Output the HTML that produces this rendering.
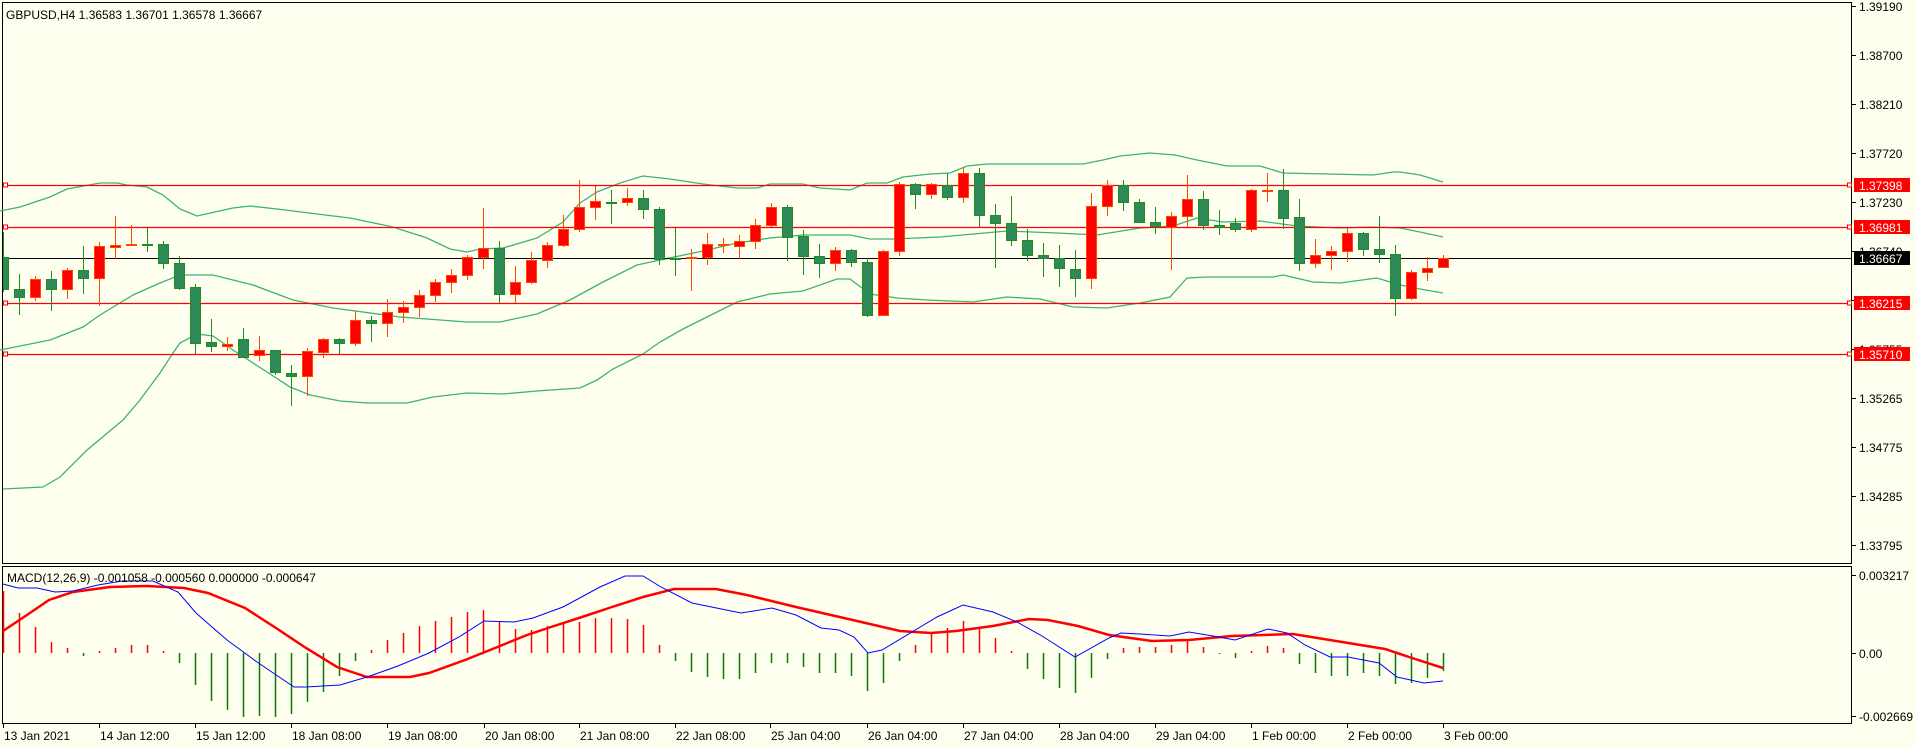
<!DOCTYPE html>
<html><head><meta charset="utf-8"><style>
html,body{margin:0;padding:0;background:#fffff0;}
svg{display:block;font-family:"Liberation Sans",sans-serif;}
</style></head><body>
<svg id="s" width="1916" height="748" xmlns="http://www.w3.org/2000/svg">
<rect x="0" y="0" width="1916" height="748" fill="#fffff0"/>
<g id="g"></g>
</svg>
<script>
const NS="http://www.w3.org/2000/svg";const G=document.getElementById('g');
function el(t,a,txt){const e=document.createElementNS(NS,t);for(const k in a)e.setAttribute(k,a[k]);if(txt!==undefined)e.textContent=txt;G.appendChild(e);return e;}
// frames
el('rect',{x:2.5,y:2.5,width:1849,height:561,fill:'none',stroke:'#000','stroke-width':1});
el('rect',{x:2.5,y:566.5,width:1849,height:157,fill:'none',stroke:'#000','stroke-width':1});
// bollinger
const up=[[0,211],[20,207],[50,197],[67,189],[100,183],[117,183],[127,185],[147,187],[163,195],[180,209],[197,216],[233,208],[250,206],[277,209],[317,214],[350,218],[393,227],[427,238],[450,249],[467,252],[480,249],[503,248],[537,238],[563,222],[580,203],[597,192],[620,183],[643,176],[670,179],[703,184],[737,188],[757,188],[770,184],[803,184],[820,188],[850,190],[867,183],[887,183],[903,177],[930,174],[950,173],[967,166],[987,164],[1083,164],[1103,160],[1120,156],[1150,153],[1175,155],[1197,160],[1227,166],[1260,166],[1283,173],[1373,175],[1393,172],[1400,172],[1420,175],[1443,182]];
const mid=[[0,350],[50,340],[83,327],[100,315],[133,295],[160,283],[180,275],[213,275],[253,285],[293,300],[333,308],[400,317],[467,322],[500,322],[537,314],[570,300],[603,282],[637,265],[660,260],[703,251],[737,243],[770,238],[803,235],[850,235],[870,239],[893,239],[940,237],[1007,231],[1057,233],[1097,235],[1140,228],[1173,226],[1197,218],[1223,222],[1260,221],[1297,226],[1340,228],[1373,227],[1400,228],[1420,232],[1443,237]];
const lo=[[3,489],[43,487],[60,477],[87,450],[105,435],[123,420],[140,400],[160,373],[173,353],[180,343],[197,334],[213,336],[233,350],[267,372],[290,387],[310,395],[340,401],[367,403],[407,403],[433,397],[467,393],[503,394],[537,391],[580,388],[597,380],[613,369],[643,354],[660,342],[683,329],[717,312],[737,302],[770,294],[803,291],[837,279],[850,279],[870,294],[897,298],[927,300],[973,302],[1007,297],[1040,299],[1073,307],[1107,308],[1140,303],[1170,297],[1187,278],[1207,277],[1273,277],[1283,275],[1313,282],[1340,283],[1377,278],[1400,285],[1420,289],[1443,293]];
[up,mid,lo].forEach(p=>el('polyline',{points:p.map(q=>q.join(',')).join(' '),fill:'none',stroke:'#3cb371','stroke-width':1.3}));
// horizontal lines
[185,227,303,354].forEach(y=>{el('line',{x1:3,x2:1852,y1:y+.5,y2:y+.5,stroke:'#ff0000','stroke-width':1.3});
el('rect',{x:3.5,y:y-2,width:4,height:4,fill:'#fffff0',stroke:'#ff0000'});el('rect',{x:1847.5,y:y-2,width:4,height:4,fill:'#fffff0',stroke:'#ff0000'});});
el('line',{x1:3,x2:1852,y1:258.5,y2:258.5,stroke:'#000','stroke-width':1});
// candles
const C=`g 257,289,232,292;g 289,297,274,315;r 279,297,276,301;g 279,289,271,311;r 270,289,268,299;g 270,278,246,294;r 246,278,242,306;r 245,247,216,259;r 244,245,225,246;g 244,245,228,252;g 244,263,241,269;g 263,288,256,290;g 287,343,284,354;g 342,346,319,352;r 344,346,337,351;g 339,357,328,358;r 350,355,336,361;g 350,372,350,375;g 373,376,365,406;r 351,376,348,396;r 339,352,338,358;g 339,343,338,354;r 320,343,311,346;g 320,323,316,342;r 312,323,299,337;r 307,312,301,323;r 295,307,290,317;r 282,295,279,302;r 275,282,269,293;r 257,275,255,280;r 248,257,208,269;g 248,294,241,303;r 282,294,266,303;r 260,282,252,284;r 245,260,242,268;r 229,245,215,247;r 207,229,180,232;r 201,207,186,220;g 202,203,190,224;r 198,202,188,206;g 198,209,190,219;g 209,259,207,265;g 258,259,228,276;r 257,258,249,291;r 244,257,233,265;r 244,245,238,253;r 241,246,235,259;r 225,241,219,249;r 207,225,203,227;g 207,237,205,261;g 236,256,230,275;g 256,263,244,278;r 250,263,247,271;g 250,262,249,267;g 262,315,258,317;r 251,315,250,316;r 184,251,182,256;g 184,194,183,209;r 184,194,183,199;g 185,197,173,200;r 173,197,167,203;g 173,215,168,227;g 215,223,204,268;g 223,240,196,246;g 240,255,229,261;g 255,258,243,277;g 258,268,245,287;g 269,278,250,297;r 206,278,193,289;r 185,206,180,216;g 185,202,180,211;g 202,222,199,223;g 222,226,207,234;r 216,227,212,270;r 199,216,175,227;g 199,225,191,230;g 225,227,210,235;g 223,229,218,232;r 190,229,189,232;r 190,191,173,202;g 190,218,169,229;g 217,263,199,271;r 255,263,239,268;r 251,255,246,270;r 233,251,228,262;g 233,249,232,256;g 249,254,216,263;g 254,298,245,316;r 272,298,270,300;r 268,272,257,281;r 258,267,255,267`.split(';');
C.forEach((s,i)=>{const c=s[0];const v=s.slice(2).split(',').map(Number);const x=3+16*i;
const wk=c=='g'?'#228b22':'#ff4500',fl=c=='g'?'#2e8b57':'#ff0000';
el('line',{x1:x+.5,x2:x+.5,y1:v[2],y2:v[3],stroke:wk,'stroke-width':1});
let h=Math.max(v[1]-v[0],1);const xl=Math.max(x-5,3);
el('rect',{x:xl+.5,y:v[0]+.5,width:x+5-xl,height:h,fill:fl,stroke:wk,'stroke-width':1});});
// price axis
const ticks=[[6,'1.39190'],[55,'1.38700'],[104,'1.38210'],[153,'1.37720'],[202,'1.37230'],[251,'1.36740'],[300,'1.36250'],[349,'1.35755'],[398,'1.35265'],[447,'1.34775'],[496,'1.34285'],[545,'1.33795']];
ticks.forEach(t=>{el('line',{x1:1852,x2:1856,y1:t[0]+.5,y2:t[0]+.5,stroke:'#000'});el('text',{x:1859,y:t[0]+5,'font-size':12,fill:'#000'},t[1]);});
[[185,'1.37398','#ff0000'],[227,'1.36981','#ff0000'],[303,'1.36215','#ff0000'],[354,'1.35710','#ff0000'],[258,'1.36667','#000']].forEach(t=>{
el('rect',{x:1854,y:t[0]-7,width:56,height:14,fill:t[2]});el('text',{x:1859,y:t[0]+5,'font-size':12,fill:'#fff'},t[1]);});
el('text',{x:6,y:19,'font-size':12,fill:'#000'},'GBPUSD,H4  1.36583 1.36701 1.36578 1.36667');
// MACD
const hb=[591,613,627,642,648,656,651,648,645,645,651,663,685,701,710,717,716,717,714,702,692,676,661,650,640,633,626,621,617,612,610,621,629,630,626,623,622,618,618,619,625,645,661,672,677,679,679,673,663,663,667,673,673,676,691,683,661,645,633,628,621,627,638,651,669,679,688,693,678,659,648,647,647,645,640,647,654,658,651,646,648,664,673,676,676,673,676,684,683,678,671];
hb.forEach((y,i)=>{const x=3+16*i+.5;const c=y<653?'#ff0000':'#008000';el('line',{x1:x,x2:x,y1:653,y2:y,stroke:c,'stroke-width':1.5});});
const sig=[[3,631],[24,617],[49,600],[73,592],[110,587],[147,586],[184,588],[208,593],[245,608],[276,628],[306,648],[337,667],[367,677],[410,677],[429,673],[465,660],[490,650],[527,635],[551,627],[582,617],[612,607],[643,597],[674,589],[716,589],[747,595],[796,607],[857,621],[900,631],[931,633],[956,631],[993,626],[1029,619],[1048,620],[1078,626],[1109,635],[1152,641],[1189,640],[1232,636],[1293,634],[1336,641],[1385,649],[1409,657],[1443,668]];
const mac=[[3,584],[18,588],[37,588],[55,592],[73,591],[98,585],[122,581],[153,581],[178,592],[196,613],[227,640],[257,662],[294,687],[306,687],[340,685],[367,677],[398,666],[429,653],[459,637],[484,621],[514,622],[533,618],[563,607],[600,587],[625,576],[643,576],[661,587],[692,603],[741,613],[772,608],[796,615],[821,628],[839,630],[854,637],[868,653],[882,650],[912,632],[937,617],[963,605],[993,612],[1017,622],[1042,636],[1075,657],[1109,638],[1121,633],[1140,634],[1170,636],[1189,632],[1213,636],[1235,640],[1268,629],[1287,633],[1305,645],[1330,657],[1348,657],[1379,663],[1397,677],[1424,683],[1443,681]];
el('polyline',{points:sig.map(q=>q.join(',')).join(' '),fill:'none',stroke:'#ff0000','stroke-width':2.5});
el('polyline',{points:mac.map(q=>q.join(',')).join(' '),fill:'none',stroke:'#0000ff','stroke-width':1});
el('text',{x:7,y:582,'font-size':12,fill:'#000'},'MACD(12,26,9) -0.001058 -0.000560 0.000000 -0.000647');
[[575,'0.003217'],[653,'0.00'],[716,'-0.002669']].forEach(t=>{el('line',{x1:1852,x2:1856,y1:t[0]+.5,y2:t[0]+.5,stroke:'#000'});el('text',{x:1859,y:t[0]+5,'font-size':12,fill:'#000'},t[1]);});
// time axis
const tl=[[3,'13 Jan 2021'],[99,'14 Jan 12:00'],[195,'15 Jan 12:00'],[291,'18 Jan 08:00'],[387,'19 Jan 08:00'],[484,'20 Jan 08:00'],[579,'21 Jan 08:00'],[675,'22 Jan 08:00'],[770,'25 Jan 04:00'],[867,'26 Jan 04:00'],[963,'27 Jan 04:00'],[1059,'28 Jan 04:00'],[1155,'29 Jan 04:00'],[1251,'1 Feb 00:00'],[1347,'2 Feb 00:00'],[1443,'3 Feb 00:00']];
tl.forEach(t=>{el('line',{x1:t[0]+.5,x2:t[0]+.5,y1:724,y2:728,stroke:'#000'});el('text',{x:t[0]+1,y:740,'font-size':12,fill:'#000'},t[1]);});
</script>
</body></html>
